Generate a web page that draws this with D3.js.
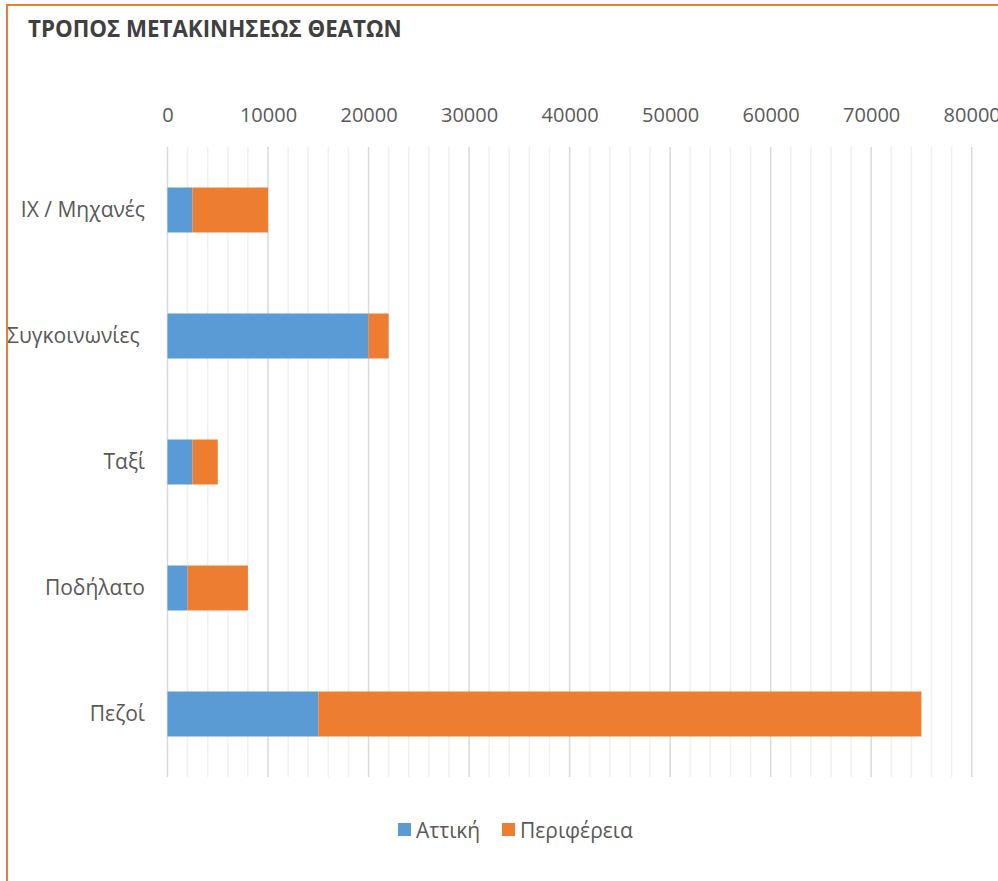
<!DOCTYPE html>
<html><head><meta charset="utf-8">
<script src="https://cdn.jsdelivr.net/npm/d3@7"></script>
<style>body{margin:0;background:#fff}svg{display:block}</style>
</head><body>
<svg id="c" width="998" height="881"></svg>
<script>
const categories = ["IX / Μηχανές", "Συγκοινωνίες ", "Ταξί", "Ποδήλατο", "Πεζοί"];
const attiki = [2500, 20000, 2500, 2000, 15000];
const perifereia = [7500, 2000, 2500, 6000, 60000];
const seriesNames = ["Αττική", "Περιφέρεια"];
const tickValues = [0, 10000, 20000, 30000, 40000, 50000, 60000, 70000, 80000];
const colors = ["#5B9BD5", "#ED7D31"];
const title = "ΤΡΟΠΟΣ ΜΕΤΑΚΙΝΗΣΕΩΣ ΘΕΑΤΩΝ";

const svg = d3.select("#c");
const font = "'Open Sans', sans-serif";

// frame
svg.append("rect").attr("x", 7).attr("y", 5).attr("width", 1100).attr("height", 1000)
  .attr("fill", "#fff").attr("stroke", "#ED7D31").attr("stroke-width", 2);

svg.append("text").attr("x", 28).attr("y", 37).text(title)
  .attr("font-family", font).attr("font-weight", "bold").attr("font-size", 22.3)
  .attr("fill", "#404040");

const x = d3.scaleLinear().domain([0, 80000]).range([167.5, 971.7]);
const y = d3.scaleBand().domain(categories).range([147, 777]).paddingInner(0.643).paddingOuter(0.3215);

// minor grid
const minor = d3.range(0, 80001, 2000).filter(v => v % 10000 !== 0);
svg.append("g").selectAll("line").data(minor).join("line")
  .attr("x1", d => x(d)).attr("x2", d => x(d)).attr("y1", 147).attr("y2", 777)
  .attr("stroke", "#f0f0f0").attr("stroke-width", 1.5);
svg.append("g").selectAll("line").data(tickValues).join("line")
  .attr("x1", d => x(d)).attr("x2", d => x(d)).attr("y1", 147).attr("y2", 777)
  .attr("stroke", "#d9d9d9").attr("stroke-width", 1.5);

// top axis labels
const ax = d3.axisTop(x).tickValues(tickValues).tickSize(0).tickPadding(0).tickFormat(d3.format("d"));
const gx = svg.append("g").attr("transform", "translate(0,122)").call(ax);
gx.select(".domain").remove();
gx.selectAll("text").attr("font-family", font).attr("font-size", 20).attr("fill", "#595959").attr("dy", 0);

// y labels
const ay = d3.axisLeft(y).tickSize(0).tickPadding(0);
const gy = svg.append("g").attr("transform", "translate(145,0)").call(ay);
gy.select(".domain").remove();
gy.selectAll("text").attr("font-family", font).attr("font-size", 21).attr("fill", "#595959")
  .style("white-space", "pre");

// stacked bars
const rows = categories.map((c, i) => ({cat: c, Αττική: attiki[i], Περιφέρεια: perifereia[i]}));
const stack = d3.stack().keys(seriesNames)(rows);
svg.append("g").selectAll("g").data(stack).join("g").attr("fill", (d, i) => colors[i])
  .selectAll("rect").data(d => d).join("rect")
  .attr("x", d => x(d[0])).attr("width", d => x(d[1]) - x(d[0]))
  .attr("y", d => y(d.data.cat)).attr("height", y.bandwidth());

// legend
const lg = svg.append("g");
const items = [{n: seriesNames[0], c: colors[0], x: 398}, {n: seriesNames[1], c: colors[1], x: 502}];
items.forEach(it => {
  lg.append("rect").attr("x", it.x).attr("y", 823).attr("width", 13).attr("height", 13).attr("fill", it.c);
  lg.append("text").attr("x", it.x + 18).attr("y", 838).text(it.n)
    .attr("font-family", font).attr("font-size", 21).attr("fill", "#595959");
});
</script>
</body></html>
